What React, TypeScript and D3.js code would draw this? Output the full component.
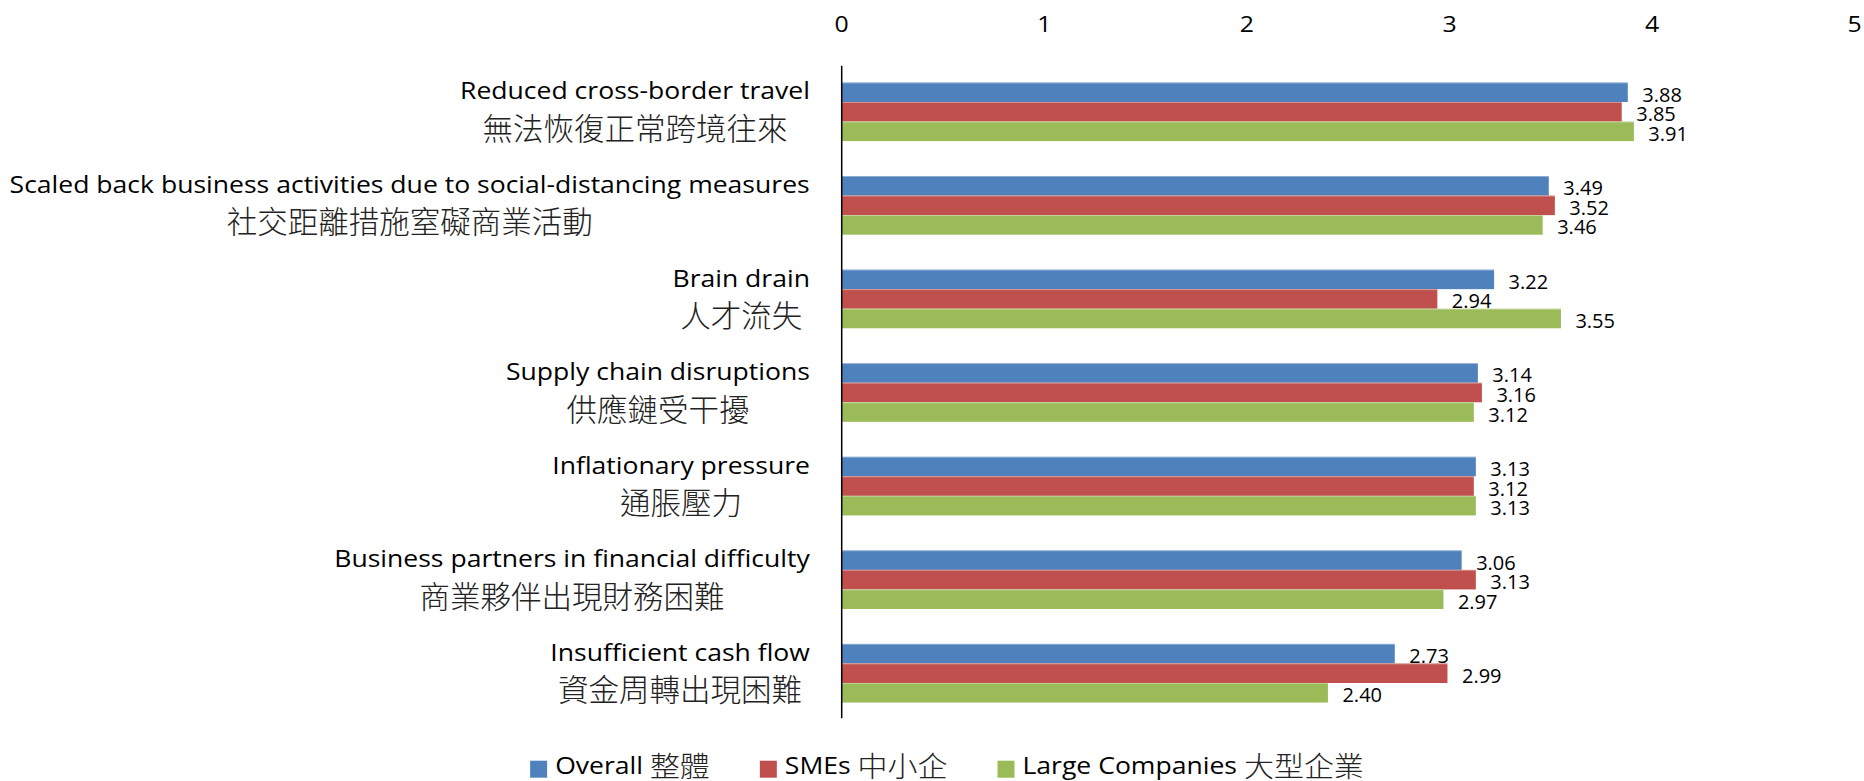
import React, { useMemo } from "react";
import * as d3 from "d3";

const categoriesEn = [
  "Reduced cross-border travel",
  "Scaled back business activities due to social-distancing measures",
  "Brain drain",
  "Supply chain disruptions",
  "Inflationary pressure",
  "Business partners in financial difficulty",
  "Insufficient cash flow",
];
const categoriesZh = [
  "無法恢復正常跨境往來",
  "社交距離措施窒礙商業活動",
  "人才流失",
  "供應鏈受干擾",
  "通脹壓力",
  "商業夥伴出現財務困難",
  "資金周轉出現困難",
];
const seriesEn = ["Overall", "SMEs", "Large Companies"];
const seriesZh = ["整體", "中小企", "大型企業"];
const overall = [3.88, 3.49, 3.22, 3.14, 3.13, 3.06, 2.73];
const smes = [3.85, 3.52, 2.94, 3.16, 3.12, 3.13, 2.99];
const large = [3.91, 3.46, 3.55, 3.12, 3.13, 2.97, 2.4];
const xTicks = [0, 1, 2, 3, 4, 5];

const colors = ["#4F81BD", "#C0504D", "#9BBB59"];
const W = 1864;
const H = 781;
const EN_NAME = "Open Sans";
const EN_FONT = "'Open Sans', 'Noto Sans', sans-serif";
const ZH_NAME = "Noto Sans CJK TC";
const ZH_FONT = "'Noto Sans CJK TC', 'Noto Sans CJK SC', sans-serif";

let ctx: CanvasRenderingContext2D | null = null;
function measure(text: string, font: string): number {
  if (!ctx) {
    const c = document.createElement("canvas");
    ctx = c.getContext("2d");
  }
  if (!ctx) return text.length * 10;
  ctx.font = font;
  return ctx.measureText(text).width;
}

export default function App() {
  const seriesValues = [overall, smes, large];
  const x = d3.scaleLinear().domain([0, 5]).range([841.7, 1854.7]);
  const y = d3.scaleBand<string>().domain(categoriesEn).range([65, 720]).padding(0);
  const groupH = y.bandwidth() * 0.627;
  const inner = d3.scaleBand<string>().domain(seriesEn).range([0, groupH]).padding(0);
  const groupOff = (y.bandwidth() - groupH) / 2;

  const enSize = 23;
  const enSx = 1.155;
  const zhSize = 30.5;
  const labelRight = 810;

  const labelLayout = useMemo(
    () =>
      categoriesEn.map((en, i) => {
        const wEn = measure(en, `${enSize}px "${EN_NAME}"`) * enSx;
        const wZh = measure(categoriesZh[i], `${zhSize}px "${ZH_NAME}"`);
        const bw = Math.max(wEn, wZh);
        return { cx: labelRight - bw / 2 };
      }),
    []
  );

  const legendEnSize = 23;
  const legendZhSize = 28;
  const legendZhSx = 1.07;
  const sq = 17;
  const sqGap = 25;
  const itemGap = 50;
  const legendItems = useMemo(() => {
    const parts = seriesEn.map((s, i) => {
      const wEn = measure(s + " ", `${legendEnSize}px "${EN_NAME}"`) * enSx;
      const wZh = measure(seriesZh[i], `${legendZhSize}px "${ZH_NAME}"`) * legendZhSx;
      return { wEn, wZh, w: wEn + wZh };
    });
    const total =
      parts.reduce((a, b) => a + b.w, 0) + seriesEn.length * sqGap + (seriesEn.length - 1) * itemGap;
    let cur = 947 - total / 2;
    return parts.map((p) => {
      const item = { x: cur, wEn: p.wEn };
      cur += sqGap + p.w + itemGap;
      return item;
    });
  }, []);

  const axisX = x(0);
  const [y0, y1] = y.range();

  return (
    <svg
      width={W}
      height={H}
      viewBox={`0 0 ${W} ${H}`}
      style={{ position: "absolute", left: 0, top: 0, display: "block", background: "#fff" }}
    >
      <rect x={0} y={0} width={W} height={H} fill="#fff" />
      {/* x tick labels */}
      {xTicks.map((t) => (
        <text
          key={t}
          transform={`translate(${x(t)},32.3) scale(${enSx},1)`}
          textAnchor="middle"
          fontFamily={EN_FONT}
          fontSize={21.5}
          fill="#000"
        >
          {t}
        </text>
      ))}
      {/* bars */}
      {categoriesEn.map((cat, ci) => (
        <g key={cat} transform={`translate(0,${(y(cat) as number) + groupOff})`}>
          {seriesEn.map((s, si) => {
            const v = seriesValues[si][ci];
            const by = inner(s) as number;
            const bh = inner.bandwidth();
            return (
              <g key={s}>
                <rect
                  x={axisX}
                  y={by}
                  width={x(v) - axisX}
                  height={bh}
                  fill={colors[si]}
                />
                <line
                  x1={axisX}
                  x2={x(v)}
                  y1={by + 0.5}
                  y2={by + 0.5}
                  stroke="#ffffff"
                  strokeOpacity={0.35}
                  strokeWidth={1}
                />
                <text
                  x={x(v) + 14.5}
                  y={by + bh / 2 + 9.5}
                  fontFamily={EN_FONT}
                  fontSize={20}
                  fill="#000"
                >
                  {v.toFixed(2)}
                </text>
              </g>
            );
          })}
        </g>
      ))}
      {/* axis line */}
      <line x1={axisX} x2={axisX} y1={y0 + 0.7} y2={y1 - 1.7} stroke="#000" strokeWidth={1.5} />
      {/* category labels */}
      {categoriesEn.map((cat, ci) => {
        const c = (y(cat) as number) + y.bandwidth() / 2;
        const { cx } = labelLayout[ci];
        return (
          <g key={cat}>
            <text
              transform={`translate(${cx},${c - 12.3}) scale(${enSx},1)`}
              textAnchor="middle"
              fontFamily={EN_FONT}
              fontSize={enSize}
              fill="#000"
            >
              {cat}
            </text>
            <text
              x={cx}
              y={c + 28}
              textAnchor="middle"
              fontFamily={ZH_FONT}
              fontSize={zhSize}
              fontWeight={300}
              fill="#222"
            >
              {categoriesZh[ci]}
            </text>
          </g>
        );
      })}
      {/* legend */}
      {seriesEn.map((s, si) => {
        const { x: lx, wEn } = legendItems[si];
        return (
          <g key={s}>
            <rect x={lx} y={760.7} width={sq} height={sq} fill={colors[si]} />
            <text
              transform={`translate(${lx + sqGap},773.5) scale(${enSx},1)`}
              fontFamily={EN_FONT}
              fontSize={legendEnSize}
              fill="#000"
            >
              {s + " "}
            </text>
            <text
              transform={`translate(${lx + sqGap + wEn},777) scale(${legendZhSx},1)`}
              fontFamily={ZH_FONT}
              fontSize={legendZhSize}
              fontWeight={300}
              fill="#222"
            >
              {seriesZh[si]}
            </text>
          </g>
        );
      })}
    </svg>
  );
}
